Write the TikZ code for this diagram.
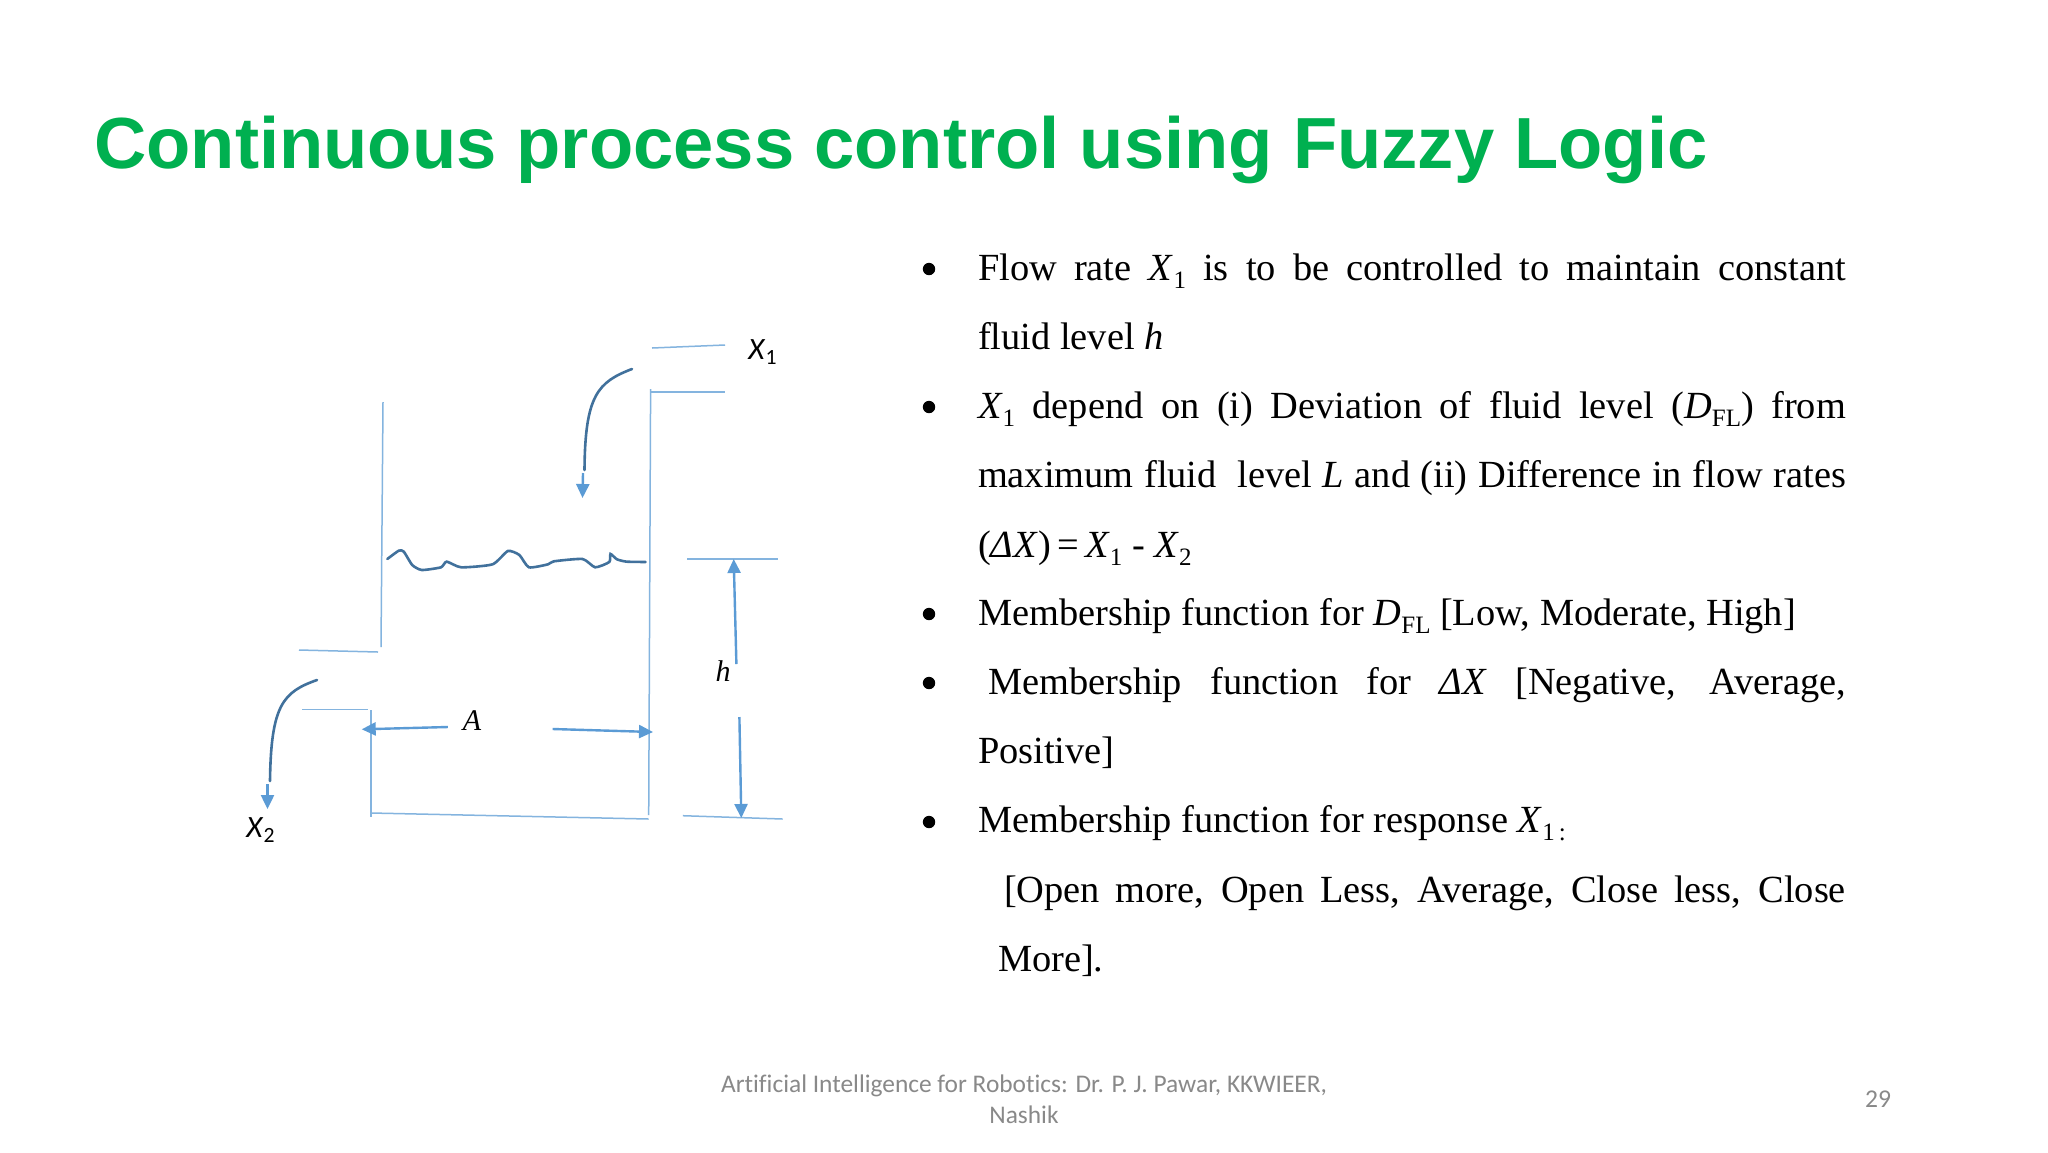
\documentclass[tikz,border=0pt]{standalone}
\usepackage{fontspec}
\setmainfont{Liberation Serif}
\newfontfamily\titlefont{Liberation Sans}
\newfontfamily\califont[Ligatures=NoCommon]{Carlito}
\usetikzlibrary{arrows.meta}
\definecolor{lineblue}{HTML}{5B9BD5}
\definecolor{curveblue}{HTML}{41719C}
\definecolor{titlegreen}{HTML}{00B050}
\definecolor{footgray}{HTML}{898989}
\newcommand{\bodysize}{\fontsize{19.2}{23}\selectfont}
\newcommand{\lowsub}[1]{\raisebox{-4pt}{\fontsize{12.5}{14}\selectfont #1}}
\newcommand{\subx}[1]{\textit{X}\lowsub{#1}}
\newcommand{\dfl}{\textit{D}\lowsub{FL}}
\tikzset{
  wall/.style={draw=lineblue!75,line width=0.75pt},
  dimarrow/.style={draw=lineblue,line width=1.2pt,-{Triangle[length=7pt,width=6.5pt]}},
  flowcurve/.style={draw=curveblue,line width=1.3pt,line cap=round},
  bodyline/.style={anchor=base west,inner sep=0pt,outer sep=0pt,font=\bodysize,text=black},
  calilabel/.style={inner sep=0pt,font=\califont\fontsize{15.5}{19}\selectfont,text=black},
  timeslabel/.style={inner sep=0pt,font=\fontsize{15}{18}\selectfont\itshape,text=black},
  bulletdot/.style={circle,fill=black,inner sep=0pt,minimum size=6.2pt}
}
\newcommand{\just}[1]{\makebox[434pt][s]{#1}}
\begin{document}
\begin{tikzpicture}[x=0.5pt,y=-0.5pt]
\useasboundingbox[fill=white] (0,0) rectangle (2048,1152);
% title
\node[anchor=base west,inner sep=0pt,text=titlegreen,font=\titlefont\bfseries\fontsize{36.2}{42}\selectfont] (title) at (94,168) {Continuous process control using Fuzzy Logic};
% bullets
\node[bulletdot] (b1) at (929,269) {};
\node[bulletdot] (b2) at (929,407) {};
\node[bulletdot] (b3) at (929,614) {};
\node[bulletdot] (b4) at (929,683) {};
\node[bulletdot] (b5) at (929,822) {};
% body
\node[bodyline] (l1) at (978,280) {\just{Flow rate \subx{1} is to be controlled to maintain constant}};
\node[bodyline] (l2) at (978,349) {fluid level \textit{h}};
\node[bodyline] (l3) at (978,418) {\just{\subx{1} depend on (i) Deviation of fluid level (\dfl) from}};
\node[bodyline] (l4) at (978,487) {\just{maximum fluid\ \ level \textit{L} and (ii) Difference in flow rates}};
\node[bodyline] (l5) at (978,557) {(\textit{ΔX})\,=\,\subx{1} - \subx{2}};
\node[bodyline] (l6) at (978,625) {Membership function for \dfl{} [Low, Moderate, High]};
\node[bodyline] (l7) at (988,694) {\makebox[429pt][s]{Membership function for \textit{ΔX} [Negative, Average,}};
\node[bodyline] (l8) at (978,763) {Positive]};
\node[bodyline] (l9) at (978,832) {Membership function for response \subx{1}\lowsub{\,:}};
\node[bodyline] (l10) at (1004,902) {\makebox[421pt][s]{[Open more, Open Less, Average, Close less, Close}};
\node[bodyline] (l11) at (998,971) {More].};
% footer
\node[inner sep=0pt,text=footgray,align=center,font=\califont\fontsize{12.7}{15.4}\selectfont] (foot) at (1024,1099) {Artificial Intelligence for Robotics: Dr. P. J. Pawar, KKWIEER,\\Nashik};
\node[inner sep=0pt,text=footgray,font=\califont\fontsize{12.8}{15.3}\selectfont] (page) at (1878,1099) {29};
% tank
\draw[wall] (652,348) -- (725,345);
\draw[wall] (650.6,392) -- (725,392);
\draw[wall] (650.6,389) -- (648.7,815);
\draw[wall] (383,402) -- (381,647);
\draw[wall] (299,650) -- (378,652);
\draw[wall] (302,709.7) -- (368,709.7);
\draw[wall] (371,710) -- (371,817);
\draw[wall] (371,813) -- (648.7,819);
\draw[wall] (687,559) -- (777.7,559);
\draw[wall] (682.8,815.7) -- (782.7,819);
% fluid surface
\begin{scope}[shift={(240,320)},xscale=0.3827,yscale=0.3333]
\draw[flowcurve] plot[smooth,tension=0.35] coordinates {(385,717) (415,692) (428,695) (450,735) (475,750) (525,742) (540,725) (578,742) (660,733) (700,693) (730,705) (755,742) (805,733) (820,724) (895,717) (928,742) (965,726) (968,702) (985,718) (1010,725) (1060,726)};
\end{scope}
% flow curves
\draw[flowcurve] (632,369) .. controls (598,382) and (585,395) .. (584.5,470);
\draw[dimarrow] (583,473) -- (582.5,498);
\draw[flowcurve] (317,680) .. controls (283,692) and (271,705) .. (270,781);
\draw[dimarrow] (267.5,784) -- (267.5,809);
% dimension arrows
\draw[dimarrow] (736.4,664) -- (733.7,559);
\draw[dimarrow] (739.4,717) -- (741.3,818);
\draw[dimarrow] (447.8,727) -- (361.7,729.3);
\draw[dimarrow] (552.7,729) -- (653,732);
% labels
\node[calilabel] (x1) at (763,352) {\textit{X}\textsubscript{1}};
\node[calilabel] (x2) at (261,830) {\textit{X}\textsubscript{2}};
\node[timeslabel] (a) at (472,721) {A};
\node[timeslabel] (h) at (723,671) {h};
\end{tikzpicture}
\end{document}
